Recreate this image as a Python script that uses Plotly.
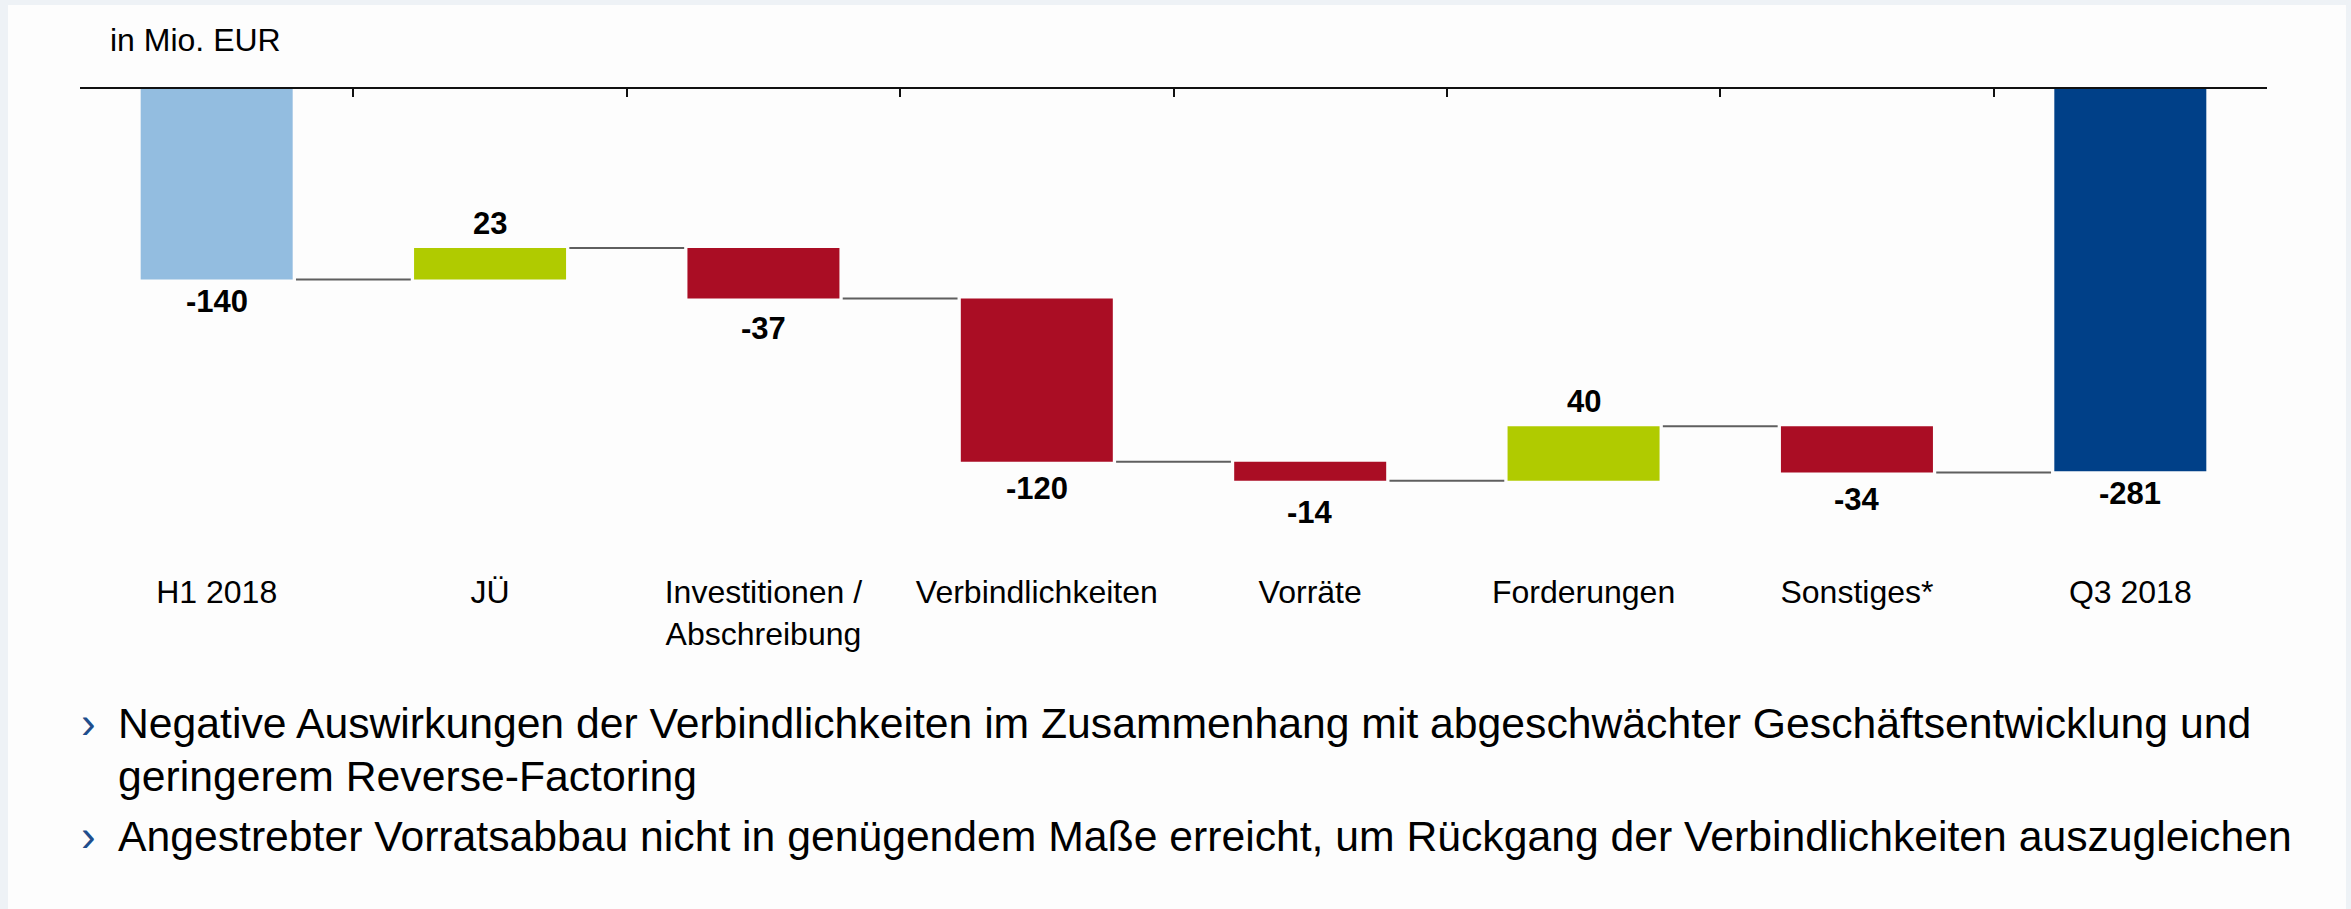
import plotly.graph_objects as go

# ---------------- data ----------------
categories = ["H1 2018", "JÜ", "Investitionen /<br>Abschreibung", "Verbindlichkeiten",
              "Vorräte", "Forderungen", "Sonstiges*", "Q3 2018"]
values = [-140, 23, -37, -120, -14, 40, -34, -281]
measures = ["absolute", "relative", "relative", "relative",
            "relative", "relative", "relative", "total"]
value_labels = ["-140", "23", "-37", "-120", "-14", "40", "-34", "-281"]
unit_label = "in Mio. EUR"
bullet_lines = [
    ["Negative Auswirkungen der Verbindlichkeiten im Zusammenhang mit abgeschwächter Geschäftsentwicklung und",
     "geringerem Reverse-Factoring"],
    ["Angestrebter Vorratsabbau nicht in genügendem Maße erreicht, um Rückgang der Verbindlichkeiten auszugleichen"],
]

# ---------------- style ----------------
COL_START = "#93BDE0"
COL_UP = "#B0CB00"
COL_DOWN = "#AA0D24"
COL_TOTAL = "#004088"
BG = "#EEF2F6"
FONT = "Arial, 'Liberation Sans', Helvetica, sans-serif"
W, H = 2351, 909
L, R, T, B = 80, 84, 89, 349
PLOT_H = H - T - B
PX_PER_UNIT = 1.36
Y_MIN = -PLOT_H / PX_PER_UNIT
PLOT_W = W - L - R
# extra vertical offset (px) of each value label away from its bar end
label_extra_gap = [0, 0, 8, 4, 9, 0, 4, 0]


def px_y(py):
    return (H - B - py) / PLOT_H


def px_x(px):
    return (px - L) / PLOT_W


# ---------------- waterfall geometry from data ----------------
bases, ends, colors = [], [], []
level = 0
for i, (v, m) in enumerate(zip(values, measures)):
    if m in ("absolute", "total"):
        base = 0
        end = v
        colors.append(COL_START if m == "absolute" else COL_TOTAL)
    else:
        base = level
        end = level + v
        colors.append(COL_UP if v > 0 else COL_DOWN)
    bases.append(base)
    ends.append(end)
    level = end

pos = list(range(len(categories)))
BAR_W = 0.556

fig = go.Figure()
fig.add_trace(go.Bar(
    x=pos, y=values, base=bases, width=BAR_W,
    marker=dict(color=colors, line=dict(width=0)),
    hoverinfo="skip", showlegend=False,
))

# connectors
cx, cy = [], []
for i in range(len(categories) - 1):
    cx += [i + 0.29, i + 0.71, None]
    cy += [ends[i], ends[i], None]
fig.add_trace(go.Scatter(
    x=cx, y=cy, mode="lines", xaxis="x2", yaxis="y",
    line=dict(color="#5f5f5f", width=2), hoverinfo="skip", showlegend=False,
))

annotations = []
for i, (v, lab) in enumerate(zip(values, value_labels)):
    neg = v < 0
    annotations.append(dict(
        x=i, y=ends[i], xref="x", yref="y", text=lab, showarrow=False,
        yanchor="top" if neg else "bottom", xanchor="center",
        yshift=(-3 - label_extra_gap[i]) if neg else (5 + label_extra_gap[i]),
        font=dict(family=FONT, size=31, color="#000000", weight="bold"),
    ))

annotations.append(dict(
    x=px_x(108), y=px_y(40), xref="paper", yref="paper", text=unit_label,
    showarrow=False, xanchor="left", yanchor="middle",
    font=dict(family=FONT, size=32, color="#000000"),
))

bullet_first_line = [723, 836]
LINE_PITCH = 52.6
for lines, y0 in zip(bullet_lines, bullet_first_line):
    for k, txt in enumerate(lines):
        annotations.append(dict(
            x=px_x(116), y=px_y(y0 + k * LINE_PITCH), xref="paper", yref="paper",
            text=txt, showarrow=False, xanchor="left", yanchor="middle",
            align="left", font=dict(family=FONT, size=42.7, color="#000000"),
        ))
    annotations.append(dict(
        x=px_x(88), y=px_y(y0 - 1), xref="paper", yref="paper", text="›",
        showarrow=False, xanchor="center", yanchor="middle",
        font=dict(family=FONT, size=44, color="#1F4E8C"),
    ))

shapes = [dict(
    type="rect", xref="paper", yref="paper", layer="below",
    x0=px_x(8), x1=px_x(2346), y0=px_y(H + 5), y1=px_y(5),
    fillcolor="#FDFDFD", line=dict(width=0),
)]

fig.update_layout(
    width=W, height=H,
    margin=dict(l=L, r=R, t=T, b=B, pad=0),
    paper_bgcolor=BG, plot_bgcolor="rgba(0,0,0,0)",
    barmode="overlay", showlegend=False,
    font=dict(family=FONT, size=32, color="#000000"),
    xaxis=dict(
        range=[-0.5, len(categories) - 0.5], tickmode="array", tickvals=pos,
        ticktext=categories, showline=False, ticks="", showgrid=False,
        zeroline=False, ticklabelstandoff=10,
        tickfont=dict(family=FONT, size=32, color="#000000"),
    ),
    xaxis2=dict(
        overlaying="x", side="top", anchor="y",
        range=[-0.5, len(categories) - 0.5], tickmode="array",
        tickvals=[p - 0.5 for p in pos] + [len(categories) - 0.5],
        showticklabels=False, ticks="inside", ticklen=8, tickwidth=2,
        tickcolor="#111111", showline=True, linecolor="#111111", linewidth=2,
        showgrid=False, zeroline=False,
    ),
    yaxis=dict(range=[Y_MIN, 0], visible=False, showgrid=False, zeroline=False),
    annotations=annotations, shapes=shapes,
)

fig.write_html(
    "out.html",
    config={"displayModeBar": False},
    post_script="document.body.style.margin='0px';document.body.style.padding='0px';"
                "document.body.style.background='" + BG + "';",
)
